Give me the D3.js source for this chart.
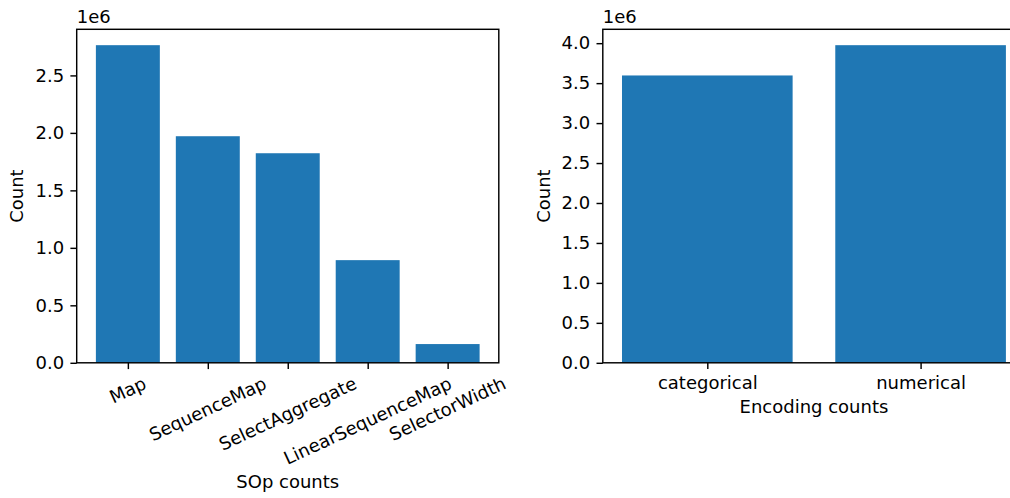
<!DOCTYPE html>
<html>
<head>
<meta charset="utf-8">
<script src="https://cdn.jsdelivr.net/npm/d3@7"></script>
<style>
  html, body { margin: 0; padding: 0; background: #fff; }
  svg { display: block; }
  text { font-family: "DejaVu Sans", sans-serif; fill: #000; }
</style>
</head>
<body>
<svg id="fig" width="1010" height="498"></svg>
<script>
// Operation counts (left panel)
const sopCategories = ["Map", "SequenceMap", "SelectAggregate", "LinearSequenceMap", "SelectorWidth"];
const sopCounts = [2763000, 1971000, 1823000, 893000, 163000];
const sopYTicks = [0, 0.5e6, 1.0e6, 1.5e6, 2.0e6, 2.5e6];

// Encoding counts (right panel)
const encCategories = ["categorical", "numerical"];
const encCounts = [3596000, 3975000];
const encYTicks = [0, 0.5e6, 1.0e6, 1.5e6, 2.0e6, 2.5e6, 3.0e6, 3.5e6, 4.0e6];

const BAR = "#1f77b4";
const FS = 18;            // 10pt text
const TICK = 6.3;         // 3.5pt tick length
const PAD = 6.3;          // 3.5pt tick pad
const LW = 1.44;          // 0.8pt line width
const BAR_W = 0.8;

const svg = d3.select("#fig");

function panel(opts) {
  const { cats, vals, yTicks, left, right, top, bottom, rotate, xLabel, xLabelY, yLabelX } = opts;
  const n = cats.length;
  const ymax = d3.max(vals) * 1.05;
  const x = d3.scaleLinear()
    .domain([-BAR_W / 2 - 0.05 * (n - 1 + BAR_W), n - 1 + BAR_W / 2 + 0.05 * (n - 1 + BAR_W)])
    .range([left, right]);
  const y = d3.scaleLinear().domain([0, ymax]).range([bottom, top]);

  const g = svg.append("g");

  // bars
  g.selectAll("rect.bar").data(vals).join("rect")
    .attr("class", "bar")
    .attr("x", (d, i) => x(i - BAR_W / 2))
    .attr("width", (d, i) => x(i + BAR_W / 2) - x(i - BAR_W / 2))
    .attr("y", d => y(d))
    .attr("height", d => y(0) - y(d))
    .attr("fill", BAR);

  // y axis
  const ya = g.append("g").attr("transform", `translate(${left},0)`)
    .call(d3.axisLeft(y).tickValues(yTicks).tickSize(TICK).tickPadding(PAD)
      .tickFormat(v => d3.format(".1f")(v / 1e6)));
  ya.select(".domain").remove();
  ya.selectAll(".tick line").attr("stroke", "#000").attr("stroke-width", LW);
  ya.selectAll(".tick text").attr("font-size", FS).attr("font-family", "DejaVu Sans").attr("fill", "#000");

  // x axis
  const xa = g.append("g").attr("transform", `translate(0,${bottom})`)
    .call(d3.axisBottom(x).tickValues(d3.range(n)).tickSize(TICK).tickPadding(PAD)
      .tickFormat(i => cats[i]));
  xa.select(".domain").remove();
  xa.selectAll(".tick line").attr("stroke", "#000").attr("stroke-width", LW);
  const xt = xa.selectAll(".tick text")
    .attr("font-size", FS).attr("font-family", "DejaVu Sans").attr("fill", "#000");
  if (rotate) {
    const th = rotate * Math.PI / 180;
    const h = 0.968 * FS;
    xt.each(function () {
      const t = d3.select(this);
      const w = this.getComputedTextLength();
      const H = w * Math.sin(th) + h * Math.cos(th);
      const cy = TICK + PAD + H / 2;
      t.attr("y", 0).attr("dy", null)
        .attr("text-anchor", "middle")
        .attr("transform", `translate(0,${cy}) rotate(${-rotate})`)
        .attr("dy", "0.276em");
    });
  } else {
    xt.attr("dy", null).attr("y", TICK + PAD + 0.76 * FS);
  }

  // spines
  g.append("rect")
    .attr("x", left).attr("y", top)
    .attr("width", right - left).attr("height", bottom - top)
    .attr("fill", "none").attr("stroke", "#000").attr("stroke-width", LW)
    .attr("stroke-linejoin", "miter");

  // offset text
  g.append("text").attr("x", left).attr("y", top - 6.5)
    .attr("font-size", FS).text("1e6");

  // axis labels
  g.append("text").attr("x", (left + right) / 2).attr("y", xLabelY)
    .attr("text-anchor", "middle").attr("font-size", FS).text(xLabel);
  g.append("text")
    .attr("transform", `translate(${yLabelX},${(top + bottom) / 2}) rotate(-90)`)
    .attr("text-anchor", "middle").attr("font-size", FS).text("Count");
}

panel({
  cats: sopCategories, vals: sopCounts, yTicks: sopYTicks,
  left: 76.7, right: 498.8, top: 29.3, bottom: 362.8,
  rotate: 25, xLabel: "SOp counts", xLabelY: 488, yLabelX: 23
});

panel({
  cats: encCategories, vals: encCounts, yTicks: encYTicks,
  left: 602.8, right: 1025.1, top: 29.3, bottom: 362.8,
  rotate: 0, xLabel: "Encoding counts", xLabelY: 413, yLabelX: 550
});
</script>
</body>
</html>
